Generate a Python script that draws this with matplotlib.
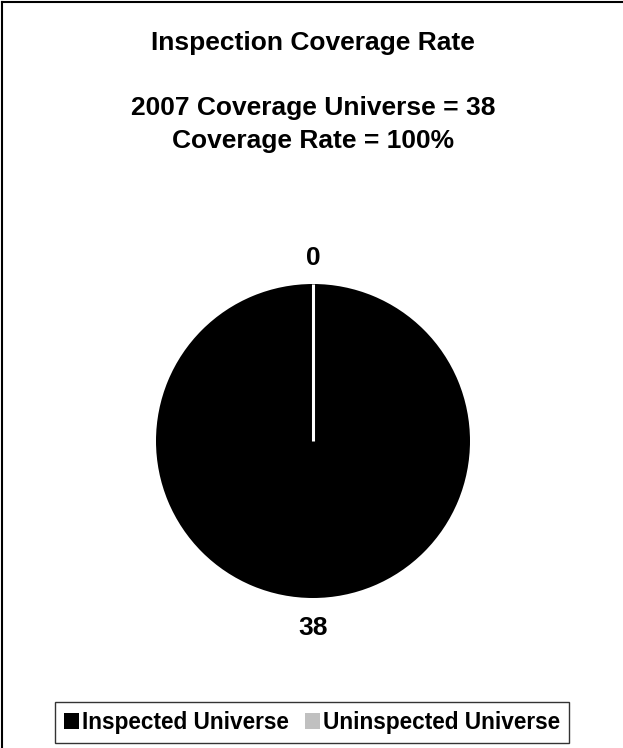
import matplotlib
matplotlib.use("Agg")
import matplotlib.pyplot as plt
from matplotlib.lines import Line2D
from matplotlib.patches import Patch

categories = ["Inspected Universe", "Uninspected Universe"]
values = [38, 0]
colors = ["#000000", "#C0C0C0"]
title_lines = ["Inspection Coverage Rate", "2007 Coverage Universe = 38", "Coverage Rate = 100%"]

plt.rcParams['font.family'] = ['Liberation Sans', 'DejaVu Sans']
plt.rcParams['font.weight'] = 'bold'

fig = plt.figure(figsize=(6.23, 7.48), dpi=100)
W, H = 623, 748

# outer border (top and left visible)
fig.add_artist(Line2D([2.5/W, 2.5/W], [0, 1 - 1.5/H], transform=fig.transFigure, color='black', lw=1.5))
fig.add_artist(Line2D([2.5/W, 1], [1 - 1.5/H, 1 - 1.5/H], transform=fig.transFigure, color='black', lw=1.5))

fs = 19
fig.text(313/W, 1 - 43/H, title_lines[0], ha='center', va='center', fontsize=fs, fontweight='bold')
fig.text(313/W, 1 - 108/H, title_lines[1], ha='center', va='center', fontsize=fs, fontweight='bold')
fig.text(313/W, 1 - 141/H, title_lines[2], ha='center', va='center', fontsize=fs, fontweight='bold')

r = 157
cx, cy = 313, 441
ax = fig.add_axes([(cx - r)/W, 1 - (cy + r)/H, 2*r/W, 2*r/H])
wedges, _ = ax.pie(values, colors=colors, startangle=90, counterclock=False, radius=1.0)
ax.plot([0, 0], [0, 1], color='white', lw=2.2, solid_capstyle='butt')
ax.set_xlim(-1, 1)
ax.set_ylim(-1, 1)
ax.set_aspect('equal')
ax.axis('off')

# data labels
ax.text(0, 1.0 + 26/r, str(values[1]), ha='center', va='center', fontsize=fs, fontweight='bold')
ax.text(0, -1.0 - 30/r, str(values[0]), ha='center', va='center', fontsize=fs, fontweight='bold')

handles = [Patch(facecolor=c, edgecolor='none') for c in colors]
leg = fig.legend(handles, categories, loc='center', bbox_to_anchor=(312/W, 1 - 722.5/H),
                 ncol=2, frameon=True, fancybox=False,
                 handlelength=0.65, handleheight=0.65, handletextpad=0.15, columnspacing=0.7,
                 borderpad=0.38, prop={'weight': 'bold', 'size': 16.3})
leg.get_frame().set_edgecolor('black')
leg.get_frame().set_linewidth(1.0)

fig.savefig("out.png", dpi=100)
